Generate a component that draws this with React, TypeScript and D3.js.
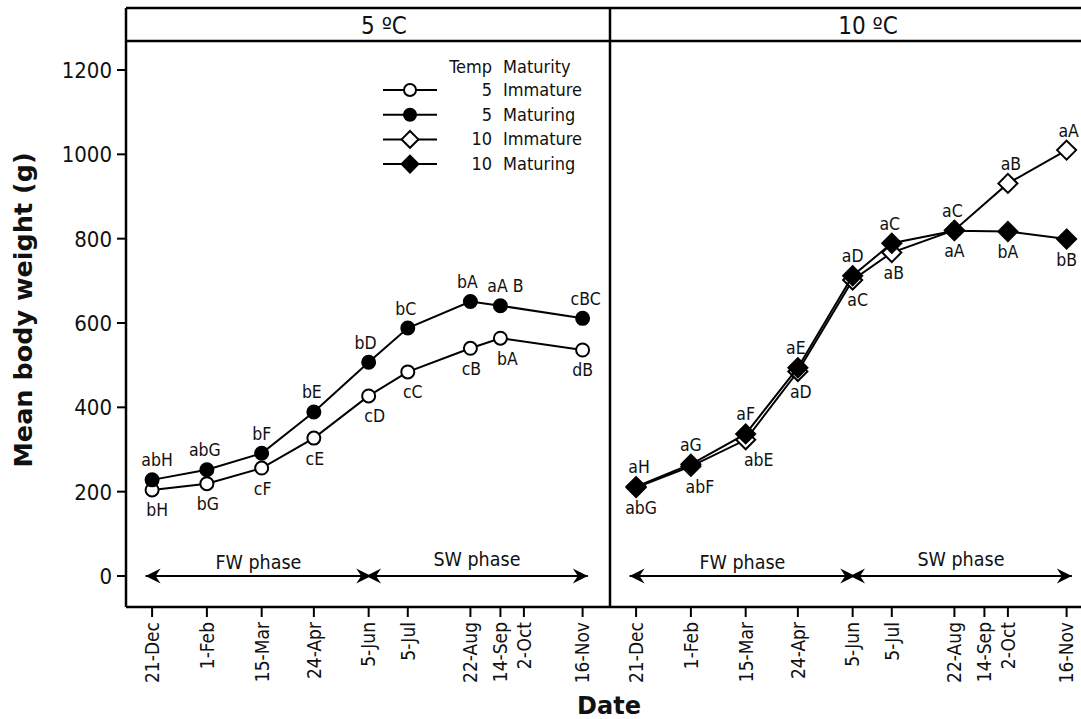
import React from "react";
import * as d3 from "d3";

const parseDate = d3.timeParse("%Y-%m-%d");

// Sampling dates shown on the x axis of both panels
const tickDates = [
  "2000-12-21", "2001-02-01", "2001-03-15", "2001-04-24", "2001-06-05",
  "2001-07-05", "2001-08-22", "2001-09-14", "2001-10-02", "2001-11-16",
];
const tickLabels = [
  "21-Dec", "1-Feb", "15-Mar", "24-Apr", "5-Jun",
  "5-Jul", "22-Aug", "14-Sep", "2-Oct", "16-Nov",
];
const yTicks = [0, 200, 400, 600, 800, 1000, 1200];

// 5 ºC group
const dates5 = [
  "2000-12-21", "2001-02-01", "2001-03-15", "2001-04-24", "2001-06-05",
  "2001-07-05", "2001-08-22", "2001-09-14", "2001-11-16",
];
const immature5 = [204, 219, 256, 327, 427, 484, 540, 564, 536];
const maturing5 = [228, 252, 291, 389, 507, 588, 651, 641, 611];
const immature5Letters = ["bH", "bG", "cF", "cE", "cD", "cC", "cB", "bA", "dB"];
const maturing5Letters = ["abH", "abG", "bF", "bE", "bD", "bC", "bA", "aA B", "cBC"];
const immature5Side = ["below", "below", "below", "below", "below", "below", "below", "below", "below"];
const maturing5Side = ["above", "above", "above", "above", "above", "above", "above", "above", "above"];

// 10 ºC group
const dates10 = [
  "2000-12-21", "2001-02-01", "2001-03-15", "2001-04-24", "2001-06-05",
  "2001-07-05", "2001-08-22", "2001-10-02", "2001-11-16",
];
const immature10 = [210, 260, 323, 485, 702, 767, 820, 931, 1010];
const maturing10 = [212, 265, 337, 494, 712, 789, 819, 817, 799];
const immature10Letters = ["abG", "abF", "abE", "aD", "aC", "aB", "aA", "aB", "aA"];
const maturing10Letters = ["aH", "aG", "aF", "aE", "aD", "aC", "aC", "bA", "bB"];
const immature10Side = ["below", "below", "below", "below", "below", "below", "below", "above", "above"];
const maturing10Side = ["above", "above", "above", "above", "above", "above", "above", "below", "below"];

// Horizontal nudges that keep neighbouring letter groups apart
const immature5Nudge = [5, 1, 1, 1, 6, 5, 1, 7, 0];
const maturing5Nudge = [5, -2, 0, -2, -3, -2, -3, 5, 3];
const immature10Nudge = [5, 9, 13, 3, 5, 2, 0, 3, 2];
const maturing10Nudge = [3, 0, 0, -2, 0, -2, -2, 0, 0];

// Culture phases (fresh water / sea water)
const phaseNames = ["FW phase", "SW phase"];
const phaseStarts = ["2000-12-16", "2001-06-03"];
const phaseEnds = ["2001-06-07", "2001-11-20"];

const panelTitles = ["5 ºC", "10 ºC"];

const legendTemps = ["5", "5", "10", "10"];
const legendMaturity = ["Immature", "Maturing", "Immature", "Maturing"];
const legendShapes = ["circle", "circle", "diamond", "diamond"];
const legendFilled = [false, true, false, true];

const FONT = "'DejaVu Sans Condensed', 'DejaVu Sans', Verdana, sans-serif";
const BOLD_FONT = "'DejaVu Sans', Verdana, sans-serif";

const W = 1081;
const H = 719;
const frameLeft = 126;
const panelWidth = 484;
const frameTop = 8;
const headerBottom = 41;
const frameBottom = 607;

const yScale = d3.scaleLinear().domain([0, 1200]).range([576, 70]);

function makeX(panel: number) {
  const x0 = frameLeft + panel * panelWidth;
  return d3
    .scaleTime()
    .domain([parseDate("2000-12-01")!, parseDate("2001-12-07")!])
    .range([x0, x0 + panelWidth]);
}

function Marker({ shape, filled, cx, cy, size }: { shape: string; filled: boolean; cx: number; cy: number; size: number }) {
  const fill = filled ? "#000" : "#fff";
  if (shape === "circle") {
    return <circle cx={cx} cy={cy} r={size} fill={fill} stroke="#000" strokeWidth={2} />;
  }
  const s = size * 1.4;
  const p = d3.path();
  p.moveTo(cx, cy - s);
  p.lineTo(cx + s, cy);
  p.lineTo(cx, cy + s);
  p.lineTo(cx - s, cy);
  p.closePath();
  return <path d={p.toString()} fill={fill} stroke="#000" strokeWidth={2} strokeLinejoin="miter" />;
}

type Series = {
  dates: string[];
  values: number[];
  letters: string[];
  sides: string[];
  nudges: number[];
  shape: string;
  filled: boolean;
};

function SeriesMarks({ s, x }: { s: Series; x: d3.ScaleTime<number, number> }) {
  const pts = s.dates.map((d, i) => [x(parseDate(d)!), yScale(s.values[i])] as [number, number]);
  const line = d3.line()(pts) || "";
  const size = s.shape === "circle" ? 6.5 : 6.8;
  return (
    <g>
      <path d={line} fill="none" stroke="#000" strokeWidth={2} />
      {pts.map(([px, py], i) => (
        <Marker key={i} shape={s.shape} filled={s.filled} cx={px} cy={py} size={size} />
      ))}
    </g>
  );
}

function SeriesLetters({ s, x }: { s: Series; x: d3.ScaleTime<number, number> }) {
  return (
    <g fontFamily={FONT} fontSize={17.5} fill="#111" textAnchor="middle">
      {s.dates.map((d, i) => {
        const px = x(parseDate(d)!) + s.nudges[i];
        const py = yScale(s.values[i]) + (s.sides[i] === "above" ? -13.5 : 26.5);
        return (
          <text key={i} x={px} y={py}>
            {s.letters[i]}
          </text>
        );
      })}
    </g>
  );
}

function ArrowHead({ x, y, dir }: { x: number; y: number; dir: number }) {
  const p = d3.path();
  p.moveTo(x, y);
  p.lineTo(x - dir * 15, y - 7.5);
  p.lineTo(x - dir * 10, y);
  p.lineTo(x - dir * 15, y + 7.5);
  p.closePath();
  return <path d={p.toString()} fill="#000" />;
}

function Phases({ x }: { x: d3.ScaleTime<number, number> }) {
  const y0 = yScale(0);
  return (
    <g>
      {phaseNames.map((name, i) => {
        const a = x(parseDate(phaseStarts[i])!);
        const b = x(parseDate(phaseEnds[i])!);
        return (
          <g key={name}>
            <line x1={a} x2={b} y1={y0} y2={y0} stroke="#000" strokeWidth={2} />
            <ArrowHead x={a} y={y0} dir={-1} />
            <ArrowHead x={b} y={y0} dir={1} />
            <text
              x={(a + b) / 2}
              y={i === 0 ? y0 - 7 : y0 - 10}
              textAnchor="middle"
              fontFamily={FONT}
              fontSize={19.5}
              fill="#111"
            >
              {name}
            </text>
          </g>
        );
      })}
    </g>
  );
}

function Legend() {
  const colRight = 492;
  const lineX0 = 383;
  const lineX1 = 437;
  return (
    <g fontFamily={FONT} fontSize={18} fill="#111">
      <text x={colRight} y={72.5} textAnchor="end">Temp</text>
      <text x={colRight + 11} y={72.5}>Maturity</text>
      {legendTemps.map((t, i) => {
        const by = 96 + i * 24.7;
        const cy = by - 6;
        return (
          <g key={i}>
            <line x1={lineX0} x2={lineX1} y1={cy} y2={cy} stroke="#000" strokeWidth={2} />
            <Marker shape={legendShapes[i]} filled={legendFilled[i]} cx={(lineX0 + lineX1) / 2} cy={cy} size={6} />
            <text x={colRight} y={by} textAnchor="end">{t}</text>
            <text x={colRight + 11} y={by}>{legendMaturity[i]}</text>
          </g>
        );
      })}
    </g>
  );
}

function XAxis({ x }: { x: d3.ScaleTime<number, number> }) {
  return (
    <g>
      {tickDates.map((d, i) => {
        const px = x(parseDate(d)!);
        return (
          <g key={d}>
            <line x1={px} x2={px} y1={frameBottom} y2={frameBottom + 10} stroke="#000" strokeWidth={2} />
            <text
              transform={`translate(${px},${frameBottom + 15}) rotate(-90)`}
              textAnchor="end"
              dy="0.36em"
              fontFamily={FONT}
              fontSize={19}
              fill="#111"
            >
              {tickLabels[i]}
            </text>
          </g>
        );
      })}
    </g>
  );
}

export default function App() {
  const x5 = makeX(0);
  const x10 = makeX(1);

  const s5: Series[] = [
    { dates: dates5, values: immature5, letters: immature5Letters, sides: immature5Side, nudges: immature5Nudge, shape: "circle", filled: false },
    { dates: dates5, values: maturing5, letters: maturing5Letters, sides: maturing5Side, nudges: maturing5Nudge, shape: "circle", filled: true },
  ];
  const s10: Series[] = [
    { dates: dates10, values: immature10, letters: immature10Letters, sides: immature10Side, nudges: immature10Nudge, shape: "diamond", filled: false },
    { dates: dates10, values: maturing10, letters: maturing10Letters, sides: maturing10Side, nudges: maturing10Nudge, shape: "diamond", filled: true },
  ];

  const right = frameLeft + 2 * panelWidth;
  const divider = frameLeft + panelWidth;

  return (
    <svg
      width={W}
      height={H}
      viewBox={`0 0 ${W} ${H}`}
      style={{ position: "absolute", left: 0, top: 0, background: "#fff", display: "block" }}
    >
      <rect x={0} y={0} width={W} height={H} fill="#fff" />

      {/* panel frames and strip headers */}
      <g stroke="#000" strokeWidth={2.5} fill="none">
        <line x1={frameLeft} x2={right} y1={frameTop} y2={frameTop} />
        <line x1={frameLeft} x2={right} y1={headerBottom} y2={headerBottom} />
        <line x1={frameLeft} x2={right} y1={frameBottom} y2={frameBottom} />
        <line x1={frameLeft} x2={frameLeft} y1={frameTop} y2={frameBottom} />
        <line x1={divider} x2={divider} y1={frameTop} y2={frameBottom} />
        <line x1={right} x2={right} y1={frameTop} y2={frameBottom} />
      </g>
      {panelTitles.map((t, i) => (
        <text
          key={t}
          x={frameLeft + panelWidth * (i + 0.5) + 16}
          y={34}
          textAnchor="middle"
          fontFamily={FONT}
          fontSize={24}
          fill="#111"
        >
          {t}
        </text>
      ))}

      {/* y axis */}
      <g>
        {yTicks.map((v) => (
          <g key={v}>
            <line x1={frameLeft - 9} x2={frameLeft} y1={yScale(v)} y2={yScale(v)} stroke="#000" strokeWidth={2} />
            <text x={frameLeft - 14} y={yScale(v) + 8} textAnchor="end" fontFamily={FONT} fontSize={22} fill="#111">
              {v}
            </text>
          </g>
        ))}
      </g>
      <text
        transform={`translate(32, 310) rotate(-90)`}
        textAnchor="middle"
        fontFamily={BOLD_FONT}
        fontWeight="bold"
        fontSize={25.5}
        fill="#111"
      >
        Mean body weight (g)
      </text>

      <XAxis x={x5} />
      <XAxis x={x10} />
      <text x={609} y={714} textAnchor="middle" fontFamily={BOLD_FONT} fontWeight="bold" fontSize={24} fill="#111">
        Date
      </text>

      <Phases x={x5} />
      <Phases x={x10} />

      <Legend />

      {s5.map((s, i) => <SeriesMarks key={i} s={s} x={x5} />)}
      {s5.map((s, i) => <SeriesLetters key={i} s={s} x={x5} />)}
      {s10.map((s, i) => <SeriesMarks key={i} s={s} x={x10} />)}
      {s10.map((s, i) => <SeriesLetters key={i} s={s} x={x10} />)}
    </svg>
  );
}
